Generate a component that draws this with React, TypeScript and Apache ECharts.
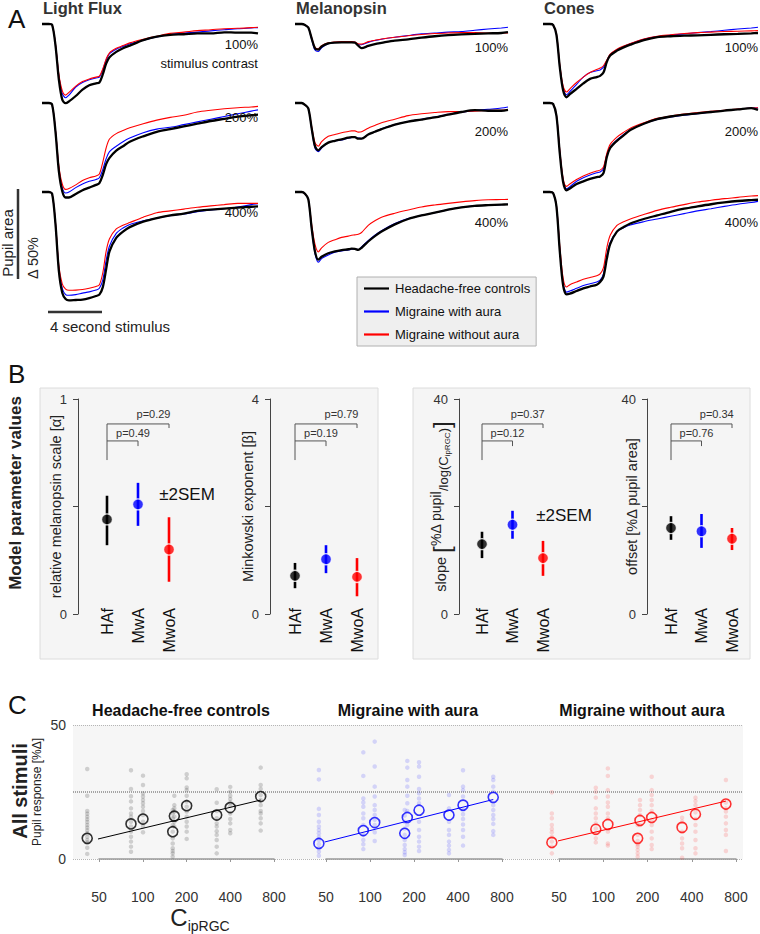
import React, { useEffect, useRef } from "react";
import * as echarts from "echarts";

const FONT = "'Liberation Sans', Arial, Helvetica, sans-serif";

// ---------- shared ----------
const GROUP_NAMES = ["Headache-free controls", "Migraine with aura", "Migraine without aura"];
const GROUP_SHORT = ["HAf", "MwA", "MwoA"];
const GROUP_COLORS = ["#000000", "#0000ff", "#ff0000"];
const DOT_COLORS = ["rgba(0,0,0,0.2)", "rgba(30,30,255,0.2)", "rgba(255,30,30,0.2)"];

// ---------- Panel A : pupil traces (% change of pupil area) ----------
const DIRECTIONS = ["Light Flux", "Melanopsin", "Cones"];
const CONTRASTS = ["100%", "200%", "400%"];
const TIME_S = [-0.5, 0, 0.25, 0.5, 0.75, 1.0, 1.25, 1.5, 2, 2.5, 3, 3.5, 3.75, 4, 4.25, 4.5, 5, 5.5, 6, 7, 8, 9, 10, 11, 12, 13, 14, 15, 15.5];

const LF100_HAF = [0, 0, -0.5, -12, -31, -42, -44, -43, -40, -36.5, -34, -33, -32.5, -28, -22, -18.5, -15.5, -13.5, -12, -9, -7, -6, -5.7, -5.2, -5.2, -4.6, -4.8, -4.8, -5.2];
const LF100_MWA = [0, 0, -0.5, -11.5, -29, -38.5, -41, -39.5, -35, -32.5, -31, -30, -29.5, -25.5, -20, -16.5, -14, -12.5, -11, -9, -7.2, -5.8, -5, -4.5, -3.8, -3.2, -2.6, -2.2, -2.0];
const LF100_MWOA = [0, 0, -0.5, -11, -28, -37, -39.5, -38, -34.5, -32, -30.5, -29.5, -29, -25, -19.5, -16, -13.5, -12, -10.5, -8.5, -6.8, -5.2, -4.5, -3.7, -3.2, -2.6, -2.4, -2.0, -1.8];
const LF200_HAF = [0, 0, -1, -16, -38, -49, -52.5, -52.5, -50.5, -48.5, -47, -45.5, -44.5, -40, -34, -30.5, -26.5, -24, -21.5, -18.5, -16, -14.5, -13, -11.5, -10, -8.8, -7.6, -6.8, -6.5];
const LF200_MWA = [0, 0, -1, -15.5, -36.5, -47, -50, -49.5, -47, -45, -43.5, -42.5, -41.5, -37, -31, -27, -24, -21.5, -19.5, -16.5, -14.5, -13.5, -12, -10.5, -9, -7.5, -6, -4.5, -3.8];
const LF200_MWOA = [0, 0, -1, -15, -35, -45, -48, -47.5, -45.5, -43, -41.5, -40.5, -39.5, -33, -25, -20, -17, -15.3, -13.8, -11.5, -9.5, -8, -6.8, -5, -4, -3.2, -2.6, -2.2, -1.9];
const LF400_HAF = [0, 0, -1, -18, -44, -56, -59.5, -60.2, -60, -59.8, -59, -57.8, -57, -53, -43, -33, -25.5, -22, -19.5, -16.5, -14.5, -13, -12, -10.5, -9.8, -9.2, -8.7, -8.2, -8];
const LF400_MWA = [0, 0, -1, -17.5, -42.5, -53.5, -57, -57.4, -57, -56.2, -55.5, -54.5, -53.5, -49, -38, -30, -23, -20, -18, -16, -14.5, -13.2, -12.2, -11, -10, -9.3, -8.3, -7, -6.5];
const LF400_MWOA = [0, 0, -1, -17, -41, -51, -54, -54.6, -54.5, -54.2, -53.5, -52.5, -51.5, -45, -33, -26, -20.5, -18.5, -17, -14, -11.5, -10.5, -9.5, -8.5, -7.7, -7, -6.3, -6.3, -6.3];

const MEL100_HAF = [0, 0, -0.5, -2, -8, -13.5, -14.2, -12.5, -10.8, -10.3, -10.2, -10.2, -10.2, -10.3, -12, -13.4, -12.2, -11.2, -10.5, -9.2, -8.5, -7.6, -6.8, -6.2, -5.8, -5.5, -5.2, -5, -4.5];
const MEL100_MWA = [0, 0, -0.5, -2, -8.5, -14.5, -15.3, -13.2, -11, -10.3, -10, -10, -10, -10.2, -11.5, -11.5, -10.2, -9.2, -8.5, -7.4, -6.4, -5.5, -5, -4.5, -4.2, -3.5, -2.8, -2.2, -1.8];
const MEL100_MWOA = [0, 0, -0.5, -2, -7.5, -13, -13.8, -12, -10.5, -10, -9.8, -9.8, -9.8, -10, -11, -11.2, -9.8, -9, -8.3, -7.4, -6.5, -5.8, -5.3, -5, -4.8, -4.8, -5, -5, -5];
const MEL200_HAF = [0, 0, -1, -3, -14, -24, -26.3, -24.5, -22, -21, -20.2, -19.3, -19, -19, -19.8, -19.8, -17.5, -16, -14.5, -12, -10.3, -9.2, -8, -6.5, -5, -4, -4.3, -4.3, -3.8];
const MEL200_MWA = [0, 0, -1, -3, -14.5, -25, -27, -25, -22, -21, -20.5, -19.5, -19.2, -19, -19.5, -19.8, -17.5, -16, -14.3, -12, -10.3, -9, -7.8, -6.3, -5, -4.2, -3.5, -2.8, -2.2];
const MEL200_MWOA = [0, 0, -1, -3, -13, -22, -24, -21.5, -18.5, -17.5, -16.5, -15.8, -15.5, -15.5, -16.2, -16, -14, -12.5, -11, -9, -7, -6, -5.3, -4.8, -4.8, -4.5, -4.2, -4, -3.8];
const MEL400_HAF = [0, 0, -1, -4, -20, -33, -37.6, -36, -34, -33, -32.3, -31.8, -31.5, -31.6, -32.2, -31, -27.5, -24.5, -22, -18, -15, -13, -11.5, -9.8, -8.5, -7.7, -7.3, -7, -6.9];
const MEL400_MWA = [0, 0, -1, -4, -20.5, -34, -39, -37, -35, -33.5, -32.8, -32.2, -31.8, -31.6, -32, -30.5, -27, -24, -21.5, -17.5, -14.8, -13, -11.5, -9.8, -8.5, -7.7, -7.3, -7, -6.9];
const MEL400_MWOA = [0, 0, -1, -4, -18, -29, -33.3, -31, -28, -26.5, -25.2, -24.5, -24, -23.8, -23.5, -22.5, -18.5, -16, -14, -11.8, -10, -8.3, -7.2, -6.3, -5.5, -4.8, -4.3, -4.2, -4.1];

const CON100_HAF = [0, 0, -0.5, -6, -24, -37, -40.7, -39, -36, -33, -30.5, -29.5, -28.8, -27, -21, -17.5, -14.8, -13, -11.5, -9, -7.3, -6.8, -6.5, -6.3, -6, -5.7, -5.5, -5.2, -5];
const CON100_MWA = [0, 0, -0.5, -6, -23.5, -36, -39.3, -37.5, -33.5, -29.5, -27, -26, -25.5, -24, -20.5, -17, -14.3, -12.5, -11, -8.5, -7, -6.2, -5.5, -4.8, -4.2, -3.5, -2.8, -2.2, -1.8];
const CON100_MWOA = [0, 0, -0.5, -5.5, -22.5, -34.5, -37.8, -36, -32.5, -29.5, -27, -25.3, -24.5, -23.2, -20, -16.8, -14, -12.2, -10.8, -8.3, -6.8, -6, -5.3, -4.8, -4.5, -4.2, -4, -3.8, -3.7];
const CON200_HAF = [0, 0, -0.5, -7, -28, -44, -48.5, -47.5, -45, -43.5, -42.2, -41.2, -40.8, -39, -30, -25, -21, -18, -15, -11.5, -9, -7.5, -6.5, -5.8, -5, -4.2, -3.6, -2.8, -3.8];
const CON200_MWA = [0, 0, -0.5, -7, -27, -43, -47.6, -46.5, -43.5, -41.5, -40, -38.8, -38.3, -36.5, -29, -24.5, -20.5, -17.5, -14.8, -11.5, -9.2, -7.8, -6.8, -6, -5, -4.2, -3.5, -2.8, -2.8];
const CON200_MWOA = [0, 0, -0.5, -6.5, -26, -42, -46.3, -45, -42.5, -40.5, -39, -37.8, -37.3, -35.5, -28, -23, -19, -16.3, -14, -11, -8.5, -7.3, -6.2, -5.3, -4.6, -4, -3.4, -2.8, -2.6];
const CON400_HAF = [0, 0, -0.5, -8, -33, -52, -56.9, -56.5, -55, -53.5, -52.5, -51.5, -50, -47, -37, -29, -22, -19.5, -17.5, -15, -13, -11, -9.3, -8, -6.8, -5.8, -5, -4.5, -4.3];
const CON400_MWA = [0, 0, -0.5, -8, -32, -51, -55.6, -55, -53.5, -52, -51, -50, -49, -45.5, -35.5, -28, -22, -19.8, -18.3, -16.5, -15, -13.5, -12, -10.5, -9.3, -8, -6.8, -5.8, -5.2];
const CON400_MWOA = [0, 0, -0.5, -7.5, -30, -48, -52.8, -51.5, -50, -48.5, -47.5, -46.5, -45.5, -42, -31, -24, -18.5, -16.5, -15, -12.5, -10.2, -8.5, -7, -5.6, -4.6, -3.7, -3, -2.2, -2];

const PANEL_A = [
  [[LF100_HAF, LF100_MWA, LF100_MWOA], [LF200_HAF, LF200_MWA, LF200_MWOA], [LF400_HAF, LF400_MWA, LF400_MWOA]],
  [[MEL100_HAF, MEL100_MWA, MEL100_MWOA], [MEL200_HAF, MEL200_MWA, MEL200_MWOA], [MEL400_HAF, MEL400_MWA, MEL400_MWOA]],
  [[CON100_HAF, CON100_MWA, CON100_MWOA], [CON200_HAF, CON200_MWA, CON200_MWOA], [CON400_HAF, CON400_MWA, CON400_MWOA]],
];

// ---------- Panel B : model parameters (mean, ±2SEM) ----------
const ALPHA_MEAN = [0.44, 0.51, 0.30];
const ALPHA_LO = [0.32, 0.41, 0.15];
const ALPHA_HI = [0.55, 0.61, 0.45];
const BETA_MEAN = [0.71, 1.02, 0.69];
const BETA_LO = [0.48, 0.76, 0.33];
const BETA_HI = [0.95, 1.28, 1.04];
const SLOPE_MEAN = [13.0, 16.6, 10.4];
const SLOPE_LO = [10.4, 14.0, 7.1];
const SLOPE_HI = [15.3, 19.2, 13.6];
const OFFSET_MEAN = [16.0, 15.4, 14.0];
const OFFSET_LO = [13.8, 12.3, 11.9];
const OFFSET_HI = [18.2, 18.6, 16.0];
const B_AXIS_MAX = [1, 4, 40, 40];
const P_VALUES = [["p=0.49", "p=0.29"], ["p=0.19", "p=0.79"], ["p=0.12", "p=0.37"], ["p=0.76", "p=0.34"]];

// ---------- Panel C : all stimuli ----------
const C_TICKS = [50, 100, 200, 400, 800];
const REF_LEVEL = 25;
const HAF_C = [41.5, 83, 100.4, 160.8, 164.9, 200.6, 322.8, 400, 648];
const MWA_C = [44.7, 90, 107.7, 172.8, 180, 216.5, 347, 433, 697];
const MWOA_C = [44.7, 89, 107.5, 171.5, 177.8, 213.6, 343.8, 424, 683];
const HAF_MEAN = [7.7, 13.1, 14.9, 10.2, 16.0, 19.9, 16.4, 19.2, 23.3];
const MWA_MEAN = [5.8, 10.6, 13.6, 9.6, 15.5, 18.2, 16.4, 20.1, 23.0];
const MWOA_MEAN = [6.2, 11.1, 12.9, 7.7, 14.4, 15.5, 11.8, 16.7, 20.5];
const HAF_FIT = [6.5, 22.0];
const MWA_FIT = [5.8, 22.2];
const MWOA_FIT = [6.2, 21.6];
const HAF_DOTS = [
  [33.6, 23.6, 17.9, 16.9, 15.8, 14.8, 13.8, 12.7, 11.7, 10.7, 9.6, 8.3, 7.1, 6.2, 4.2, 1.9],
  [33.1, 26.1, 23.4, 21.5, 18.9, 17.0, 15.8, 13.9, 12.1, 10.2, 8.3, 6.5, 4.6, 2.7],
  [31.1, 27.6, 24.5, 23.3, 22.0, 20.8, 19.5, 17.9, 16.4, 13.9, 12.1, 10.0],
  [18.3, 17.0, 15.2, 12.7, 10.2, 7.7, 5.8, 4.0, 3.0, 2.1, 0.9],
  [23.6, 20.1, 18.9, 17.7, 15.8, 13.9, 12.1],
  [31.6, 30.1, 26.7, 25.7, 23.6, 21.4, 19.5, 17.7, 15.8, 13.9, 12.1, 10.2, 7.5],
  [26.0, 21.0, 17.9, 15.2, 13.3, 12.1, 10.4, 9.0, 7.1, 4.6, 2.1],
  [26.9, 25.1, 23.6, 22.4, 21.1, 19.9, 17.0, 14.9, 13.3, 10.8, 9.6],
  [34.1, 27.6, 26.1, 23.9, 22.0, 20.1, 17.9, 17.0, 15.2, 13.3, 10.6],
];
const MWA_DOTS = [
  [33.2, 29.7, 18.7, 16.4, 13.9, 12.1, 10.8, 9.6, 8.3, 7.1, 5.5, 4.0, 2.7, 1.2],
  [39.8, 31.0, 22.6, 21.1, 19.5, 17.0, 15.2, 12.7, 9.0, 7.1, 5.5, 3.7],
  [43.8, 34.5, 27.0, 23.3, 20.1, 18.3, 16.4, 14.6, 12.7, 10.0, 6.7],
  [18.3, 16.2, 13.9, 11.4, 9.0, 7.1, 5.2, 3.7, 2.5, 1.5],
  [36.6, 34.1, 29.5, 27.0, 23.6, 20.8, 17.9, 12.7],
  [36.1, 34.5, 30.7, 26.1, 24.5, 22.6, 20.8, 13.9, 10.8, 8.3, 6.5, 4.6, 3.0],
  [23.9, 18.9, 13.9, 10.8, 9.0, 6.5, 5.0, 3.4, 2.1],
  [33.1, 27.0, 25.7, 23.3, 18.3, 16.7, 14.9, 12.9, 10.8, 8.3, 5.0],
  [30.7, 29.5, 27.0, 25.1, 20.1, 18.3, 16.4, 14.9, 13.1, 10.4, 9.0],
];
const MWOA_DOTS = [
  [24.9, 17.0, 15.2, 12.7, 11.2, 10.0, 8.3, 6.5, 4.6, 2.1],
  [26.6, 25.1, 22.9, 18.9, 17.0, 15.2, 13.3, 11.4, 9.6, 7.7, 6.2],
  [33.8, 31.0, 25.7, 23.3, 21.1, 19.5, 17.0, 15.2, 10.2, 5.8, 5.0],
  [12.7, 9.0, 6.7, 5.5, 4.6, 3.4, 2.1, 0.9],
  [22.0, 20.1, 18.3, 16.4, 12.7],
  [30.7, 25.7, 23.9, 22.0, 20.1, 17.9, 14.6, 12.7, 10.2, 7.7, 5.2, 3.7],
  [15.4, 13.9, 10.2, 7.7, 5.8, 4.0, 0.5],
  [22.9, 21.6, 20.1, 17.4, 14.9, 12.7, 10.2, 7.1, 4.0, 2.1],
  [29.5, 21.1, 18.9, 17.7, 15.8, 13.3, 10.8, 9.0, 3.0],
];

function txt(text: string, x: number, y: number, o: any = {}) {
  const { rotation, z, ...style } = o;
  return {
    type: "text",
    x,
    y,
    rotation: rotation || 0,
    z: z ?? 20,
    silent: true,
    style: {
      text,
      fill: "#222",
      fontFamily: FONT,
      fontSize: 13,
      align: "left",
      verticalAlign: "middle",
      textAlign: style.align || "left",
      textVerticalAlign: style.verticalAlign || "middle",
      ...style,
    },
  };
}

function buildOption() {
  const grid: any[] = [];
  const xAxis: any[] = [];
  const yAxis: any[] = [];
  const series: any[] = [];
  const graphic: any[] = [];
  const addGrid = (g: any, xa: any, ya: any) => {
    const i = grid.length;
    grid.push(g);
    xAxis.push({ ...xa, gridIndex: i });
    yAxis.push({ ...ya, gridIndex: i });
    return i;
  };

  // ===== Panel A =====
  const A_COL_LEFT = [42, 295, 543];
  const A_COL_WIDTH = [216, 213, 215];
  const A_ROW_BASE = [24, 103, 192];
  const A_LABEL_Y = [[44, 117, 212], [47, 131, 222], [47, 131, 222]];
  const A_PX = 1.8;
  const A_MIN = -65;
  const A_MAX = 5;
  const pxPerSec = A_COL_WIDTH[0] / (TIME_S[TIME_S.length - 1] - TIME_S[0]);
  DIRECTIONS.forEach((dir, c) => {
    graphic.push(txt(dir, A_COL_LEFT[c] + 1, 8, { fontSize: 16.5, fontWeight: "bold", fill: "#333" }));
    CONTRASTS.forEach((con, r) => {
      const gi = addGrid(
        { left: A_COL_LEFT[c], top: A_ROW_BASE[r] - A_MAX * A_PX, width: A_COL_WIDTH[c], height: (A_MAX - A_MIN) * A_PX },
        { type: "value", min: TIME_S[0], max: TIME_S[TIME_S.length - 1], show: false },
        { type: "value", min: A_MIN, max: A_MAX, show: false }
      );
      [1, 2, 0].forEach((g) => {
        series.push({
          type: "line",
          name: GROUP_NAMES[g],
          xAxisIndex: gi,
          yAxisIndex: gi,
          data: TIME_S.map((t, i) => [t, PANEL_A[c][r][g][i]]),
          symbol: "none",
          showSymbol: false,
          smooth: 0.3,
          silent: true,
          z: g === 0 ? 4 : 3,
          lineStyle: { color: GROUP_COLORS[g], width: g === 0 ? 2.3 : 1.1 },
          itemStyle: { color: GROUP_COLORS[g] },
        });
      });
      graphic.push(txt(con, A_COL_LEFT[c] + A_COL_WIDTH[c], A_LABEL_Y[c][r], { align: "right", fontSize: 13, fill: "#111" }));
    });
  });
  graphic.push(txt("stimulus contrast", A_COL_LEFT[0] + A_COL_WIDTH[0], 63, { align: "right", fontSize: 13, fill: "#111" }));
  graphic.push(txt("A", 8, 19, { fontSize: 26, fill: "#111" }));
  // scale bars
  const sbTop = 189;
  graphic.push({ type: "line", silent: true, shape: { x1: 18, y1: sbTop, x2: 18, y2: sbTop + 50 * A_PX }, style: { stroke: "#333", lineWidth: 2.5 } });
  graphic.push(txt("Pupil area", 7, 243, { rotation: Math.PI / 2, align: "center", fontSize: 15, fill: "#222" }));
  graphic.push(txt("Δ 50%", 33, 258, { rotation: Math.PI / 2, align: "center", fontSize: 14.5, fill: "#222" }));
  const stimX0 = 48;
  graphic.push({ type: "line", silent: true, shape: { x1: stimX0, y1: 312, x2: stimX0 + 4 * pxPerSec, y2: 312 }, style: { stroke: "#333", lineWidth: 2.5 } });
  graphic.push(txt("4 second stimulus", 50, 326, { fontSize: 15, fill: "#222" }));

  // ===== Panel B =====
  graphic.push(txt("B", 8, 374, { fontSize: 26, fill: "#111" }));
  graphic.push({ type: "rect", silent: true, z: -10, shape: { x: 40, y: 388, width: 338, height: 271 }, style: { fill: "#f5f5f5", stroke: "#dcdcdc", lineWidth: 1 } });
  graphic.push({ type: "rect", silent: true, z: -10, shape: { x: 413, y: 388, width: 337, height: 271 }, style: { fill: "#f5f5f5", stroke: "#dcdcdc", lineWidth: 1 } });
  graphic.push(txt("Model parameter values", 15, 493, { rotation: Math.PI / 2, align: "center", fontSize: 17, fontWeight: "bold", fill: "#222" }));
  graphic.push(txt("±2SEM", 187, 494, { align: "center", fontSize: 17, fill: "#111" }));
  graphic.push(txt("±2SEM", 564, 515, { align: "center", fontSize: 17, fill: "#111" }));

  const B_SETS = [
    { mean: ALPHA_MEAN, lo: ALPHA_LO, hi: ALPHA_HI, name: "relative melanopsin scale [α]" },
    { mean: BETA_MEAN, lo: BETA_LO, hi: BETA_HI, name: "Minkowski exponent [β]" },
    { mean: SLOPE_MEAN, lo: SLOPE_LO, hi: SLOPE_HI, name: "{a|slope }{b|[}{u|%Δ pupil}{d|/log(C}{s|ipRGC}{d|)}{b|]}" },
    { mean: OFFSET_MEAN, lo: OFFSET_LO, hi: OFFSET_HI, name: "offset [%Δ pupil area]" },
  ];
  const B_AXIS_X = [78, 270, 459, 647];
  const B_FIRST = [107, 295, 482, 671];
  const B_STEP = [31, 31, 30.5, 30.5];
  const B_NAME_GAP = [15, 15, 8, 8];
  const B_TOP = 399;
  const B_H = 215;
  const BR = { stem: 0.716, top1: 0.805, leg1: 0.781, top2: 0.884, leg2: 0.865 };
  const nameRich = {
    a: { fontSize: 14.5, fontFamily: FONT, color: "#222", verticalAlign: "bottom", padding: [0, 0, 3, 0] },
    b: { fontSize: 24, fontFamily: FONT, color: "#222", verticalAlign: "bottom", padding: [0, 0, -2, 0] },
    u: { fontSize: 14, fontFamily: FONT, color: "#222", verticalAlign: "bottom", padding: [0, 0, 8, 0] },
    d: { fontSize: 13, fontFamily: FONT, color: "#222", verticalAlign: "bottom", padding: [0, 0, 1, 0] },
    s: { fontSize: 8, fontFamily: FONT, color: "#222", verticalAlign: "bottom", padding: [0, 0, 0, 0] },
  };
  B_SETS.forEach((set, k) => {
    const left = B_FIRST[k] - B_STEP[k] / 2;
    const max = B_AXIS_MAX[k];
    const gi = addGrid(
      { left, top: B_TOP, width: 3 * B_STEP[k], height: B_H },
      {
        type: "category",
        data: GROUP_SHORT,
        offset: -7,
        axisLine: { show: false },
        axisTick: { show: false },
        axisLabel: { rotate: 90, fontSize: 16, color: "#111", fontFamily: FONT, margin: 1 },
      },
      {
        type: "value",
        min: 0,
        max,
        interval: max / 2,
        offset: left - B_AXIS_X[k],
        axisLine: { show: true, lineStyle: { color: "#444", width: 1 } },
        axisTick: { show: true, length: 5, lineStyle: { color: "#444" } },
        splitLine: { show: false },
        axisLabel: { formatter: (v: number) => (v === 0 || v === max ? String(v) : ""), fontSize: 13, color: "#333", fontFamily: FONT, margin: 11 },
        name: set.name,
        nameLocation: "middle",
        nameGap: B_NAME_GAP[k],
        nameMoveOverlap: false,
        nameTextStyle: { fontSize: 14.5, color: "#222", fontFamily: FONT, rich: nameRich },
      }
    );
    series.push({
      type: "custom",
      xAxisIndex: gi,
      yAxisIndex: gi,
      silent: true,
      z: 3,
      data: GROUP_SHORT.map((s, i) => [i, set.lo[i], set.hi[i]]),
      renderItem: (params: any, api: any) => {
        const x = api.value(0);
        const p1 = api.coord([x, api.value(1)]);
        const p2 = api.coord([x, api.value(2)]);
        return { type: "line", shape: { x1: p1[0], y1: p1[1], x2: p2[0], y2: p2[1] }, style: { stroke: GROUP_COLORS[params.dataIndex], lineWidth: 2.6 } };
      },
    });
    series.push({
      type: "scatter",
      xAxisIndex: gi,
      yAxisIndex: gi,
      silent: true,
      z: 4,
      symbolSize: 11,
      data: set.mean.map((v, i) => ({ value: [i, v], itemStyle: { color: GROUP_COLORS[i], borderColor: "#fff", borderWidth: 1.3 } })),
    });
    const pv = P_VALUES[k];
    series.push({
      type: "custom",
      xAxisIndex: gi,
      yAxisIndex: gi,
      silent: true,
      z: 3,
      data: [[0, 0]],
      renderItem: (params: any, api: any) => {
        const P = (i: number, f: number) => api.coord([i, f * max]);
        const ls = { stroke: "#555", lineWidth: 1, fill: "none" };
        const s0 = P(0, BR.stem);
        const t1a = P(0, BR.top1);
        const t1b = P(1, BR.top1);
        const l1 = P(1, BR.leg1);
        const t2a = P(0, BR.top2);
        const t2b = P(2, BR.top2);
        const l2 = P(2, BR.leg2);
        const ts = { fontSize: 11, fontFamily: FONT, fill: "#333", align: "center", verticalAlign: "bottom", textAlign: "center", textVerticalAlign: "bottom" };
        return {
          type: "group",
          children: [
            { type: "polyline", shape: { points: [s0, t2a] }, style: ls },
            { type: "polyline", shape: { points: [t1a, t1b, l1] }, style: ls },
            { type: "polyline", shape: { points: [t2a, t2b, l2] }, style: ls },
            { type: "text", style: { ...ts, text: pv[0], x: t1b[0] - 5, y: t1b[1] - 2 } },
            { type: "text", style: { ...ts, text: pv[1], x: (t1b[0] + t2b[0]) / 2, y: t2b[1] - 4 } },
          ],
        };
      },
    });
  });

  // ===== Panel C =====
  graphic.push(txt("C", 8, 705, { fontSize: 26, fill: "#111" }));
  graphic.push(txt("All stimuli", 20, 791, { rotation: Math.PI / 2, align: "center", fontSize: 20, fontWeight: "bold", fill: "#222" }));
  graphic.push({
    type: "text",
    x: 200,
    y: 919,
    silent: true,
    style: {
      text: "{c|C}{s|ipRGC}",
      align: "center",
      verticalAlign: "middle",
      textAlign: "center",
      textVerticalAlign: "middle",
      rich: {
        c: { fontSize: 24, fontFamily: FONT, fill: "#222", verticalAlign: "bottom", padding: [0, 0, 4, 0] },
        s: { fontSize: 14, fontFamily: FONT, fill: "#222", verticalAlign: "bottom" },
      },
    },
  });
  const band = addGrid(
    { left: 73, top: 725, width: 670, height: 134, show: true, backgroundColor: "#f6f6f6", borderWidth: 0 },
    { type: "value", min: 0, max: 1, show: false },
    {
      type: "value",
      min: 0,
      max: 50,
      interval: 50,
      axisLine: { show: false },
      axisTick: { show: false },
      splitLine: { show: true, lineStyle: { type: "dotted", color: "#b5b5b5", width: 1 } },
      axisLabel: { fontSize: 14, color: "#333", fontFamily: FONT, margin: 7 },
      name: "Pupil response [%Δ]",
      nameLocation: "middle",
      nameGap: 30,
      nameMoveOverlap: false,
      nameTextStyle: { fontSize: 12, color: "#222", fontFamily: FONT },
    }
  );
  series.push({
    type: "line",
    xAxisIndex: band,
    yAxisIndex: band,
    silent: true,
    symbol: "none",
    data: [[0, REF_LEVEL], [1, REF_LEVEL]],
    lineStyle: { type: "dotted", color: "#555", width: 1 },
  });

  const C_LEFT = [99, 326, 559];
  const C_W = [175, 176, 177];
  const C_TITLE_X = [181, 408, 642];
  const C_SETS = [
    { c: HAF_C, mean: HAF_MEAN, fit: HAF_FIT, dots: HAF_DOTS },
    { c: MWA_C, mean: MWA_MEAN, fit: MWA_FIT, dots: MWA_DOTS },
    { c: MWOA_C, mean: MWOA_MEAN, fit: MWOA_FIT, dots: MWOA_DOTS },
  ];
  const oct = (c: number) => Math.log2(c / C_TICKS[0]);
  C_SETS.forEach((set, g) => {
    graphic.push(txt(GROUP_NAMES[g], C_TITLE_X[g], 710, { align: "center", fontSize: 16, fontWeight: "bold", fill: "#111" }));
    const gi = addGrid(
      { left: C_LEFT[g], top: 725, width: C_W[g], height: 134 },
      {
        type: "value",
        min: 0,
        max: C_TICKS.length - 1,
        interval: 1,
        offset: 21,
        axisLine: { show: true, lineStyle: { color: "#999", width: 1.5 } },
        axisTick: { show: true, length: 3, lineStyle: { color: "#999" } },
        splitLine: { show: false },
        axisLabel: { formatter: (v: number) => String(C_TICKS[Math.round(v)]), fontSize: 14, color: "#333", fontFamily: FONT, margin: 10 },
      },
      { type: "value", min: 0, max: 50, show: false }
    );
    const dotData: number[][] = [];
    set.dots.forEach((col, j) => col.forEach((v) => dotData.push([oct(set.c[j]), v])));
    series.push({
      type: "scatter",
      xAxisIndex: gi,
      yAxisIndex: gi,
      silent: true,
      clip: false,
      symbolSize: 4.5,
      itemStyle: { color: DOT_COLORS[g] },
      data: dotData,
      z: 2,
    });
    series.push({
      type: "line",
      xAxisIndex: gi,
      yAxisIndex: gi,
      silent: true,
      clip: false,
      symbol: "none",
      data: [[oct(set.c[0]), set.fit[0]], [oct(set.c[set.c.length - 1]), set.fit[1]]],
      lineStyle: { color: GROUP_COLORS[g], width: 1 },
      z: 3,
    });
    series.push({
      type: "scatter",
      xAxisIndex: gi,
      yAxisIndex: gi,
      silent: true,
      clip: false,
      symbolSize: 10,
      itemStyle: { color: "rgba(255,255,255,0)", borderColor: GROUP_COLORS[g], borderWidth: 1.6 },
      data: set.mean.map((v, j) => [oct(set.c[j]), v]),
      z: 4,
    });
  });

  return {
    animation: false,
    backgroundColor: "#ffffff",
    textStyle: { fontFamily: FONT },
    legend: {
      data: GROUP_NAMES.map((n) => ({ name: n, icon: "rect" })),
      orient: "vertical",
      left: 357,
      top: 277,
      backgroundColor: "#efefef",
      borderColor: "#b0b0b0",
      borderWidth: 1,
      borderRadius: 0,
      padding: [4, 6, 4, 7],
      itemWidth: 25,
      itemHeight: 2.2,
      itemGap: 8,
      selectedMode: false,
      textStyle: { fontSize: 13, color: "#111", fontFamily: FONT, lineHeight: 15, padding: [0, 0, 0, 1] },
    },
    grid,
    xAxis,
    yAxis,
    series,
    graphic: { elements: graphic },
  };
}

export default function App() {
  const ref = useRef<HTMLDivElement>(null);
  useEffect(() => {
    document.body.style.margin = "0";
    const chart = echarts.init(ref.current as HTMLDivElement, undefined, { renderer: "svg" });
    chart.setOption(buildOption() as any);
    return () => chart.dispose();
  }, []);
  return <div ref={ref} style={{ width: 760, height: 934 }} />;
}
